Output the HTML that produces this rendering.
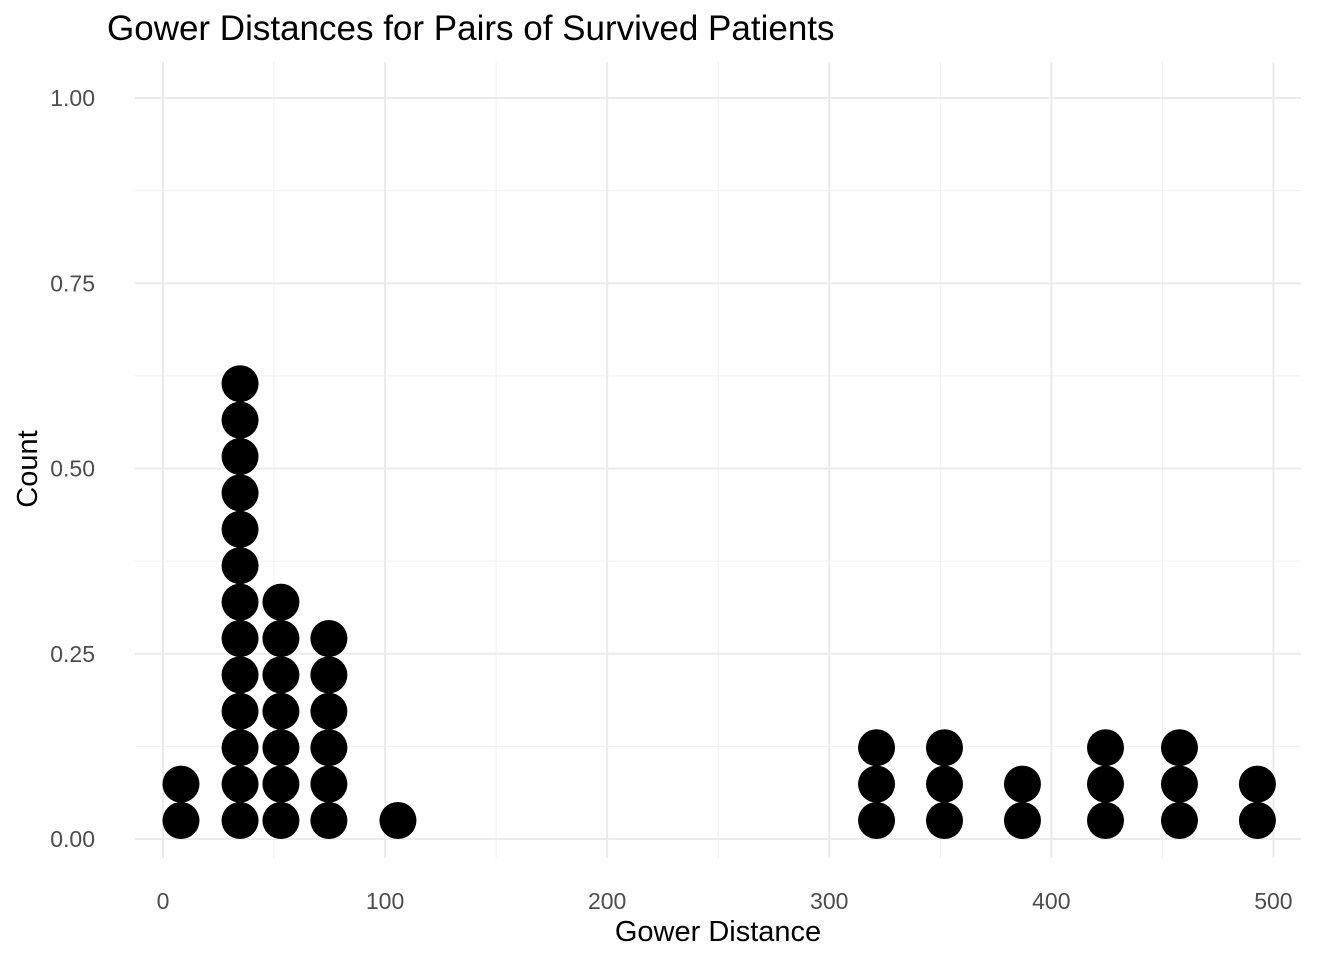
<!DOCTYPE html>
<html><head><meta charset="utf-8"><style>
body{margin:0;background:#fff;}
svg text{font-family:"Liberation Sans",Arial,sans-serif;}
</style></head><body>
<svg id="chart" width="1344" height="960" xmlns="http://www.w3.org/2000/svg">
<rect width="1344" height="960" fill="#fff"/>
<text x="107" y="40" font-size="35" fill="#000">Gower Distances for Pairs of Survived Patients</text>
<g id="grid"></g>
<g id="dots"></g>
<g id="ticks"></g>
<text x="718" y="941" font-size="29" text-anchor="middle" fill="#000">Gower Distance</text>
<text transform="translate(37,469) rotate(-90)" font-size="29" text-anchor="middle" fill="#000">Count</text>
</svg>
<script>
const binCenters = [8.1, 34.7, 53.1, 74.7, 105.8, 321.3, 351.9, 387.0, 424.4, 457.7, 492.8];
const binCounts = [2, 13, 7, 6, 1, 3, 3, 2, 3, 3, 2];
const xTicks = [0, 100, 200, 300, 400, 500];
const yTicks = [0, 0.25, 0.5, 0.75, 1.0];
const yTickLabels = ["0.00", "0.25", "0.50", "0.75", "1.00"];

const NS = "http://www.w3.org/2000/svg";
const xs = v => 163 + v * 2.2208;
const ys = v => 839 - v * 741;
const plotLeft = 135, plotRight = 1301, plotTop = 62, plotBottom = 858;
const gridG = document.getElementById('grid');
const dotsG = document.getElementById('dots');
const ticksG = document.getElementById('ticks');
function mk(tag, attrs, parent) {
  const e = document.createElementNS(NS, tag);
  for (const k in attrs) e.setAttribute(k, attrs[k]);
  parent.appendChild(e);
  return e;
}
for (let i = 0; i < xTicks.length - 1; i++) {
  const v = (xTicks[i] + xTicks[i + 1]) / 2;
  const l = mk('line', {x1: xs(v), x2: xs(v), y1: plotTop, y2: plotBottom, stroke: '#f0f0f0', 'stroke-width': 1}, gridG);
  
  
}
for (let i = 0; i < yTicks.length - 1; i++) {
  const v = (yTicks[i] + yTicks[i + 1]) / 2;
  const l = mk('line', {x1: plotLeft, x2: plotRight, y1: ys(v), y2: ys(v), stroke: '#f0f0f0', 'stroke-width': 1}, gridG);
  
  
}
xTicks.forEach(v => {
  const l = mk('line', {x1: xs(v), x2: xs(v), y1: plotTop, y2: plotBottom, stroke: '#ebebeb', 'stroke-width': 2}, gridG);
  
  
  const t = mk('text', {x: xs(v), y: 909, 'font-size': 23, fill: '#4d4d4d', 'text-anchor': 'middle'}, ticksG);
  t.textContent = v;
  
  
});
yTicks.forEach((v, i) => {
  const l = mk('line', {x1: plotLeft, x2: plotRight, y1: ys(v), y2: ys(v), stroke: '#ebebeb', 'stroke-width': 2}, gridG);
  
  
  const t = mk('text', {x: 95, y: ys(v) + 8, 'font-size': 23, fill: '#4d4d4d', 'text-anchor': 'end'}, ticksG);
  t.textContent = yTickLabels[i];
  
  
});
const r = 18.5, step = 36.4;
binCenters.forEach((c, i) => {
  for (let k = 0; k < binCounts[i]; k++) {
    const d = mk('circle', {cx: xs(c), cy: 839 - r - k * step, r: r, fill: '#000'}, dotsG);
    
    
  }
});
</script>
</body></html>
